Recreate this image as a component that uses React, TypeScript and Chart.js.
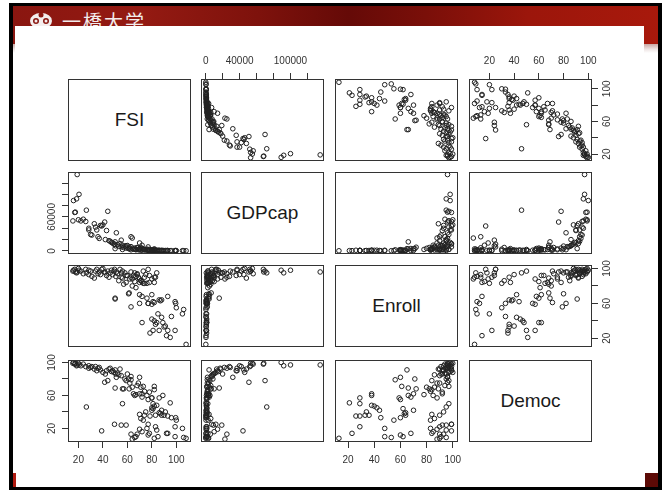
import React, { useEffect, useRef } from "react";
import { Chart, registerables } from "chart.js";

Chart.register(...registerables);

// ---------------- data (one entry per country) ----------------
const fsi = [
  15.5, 16, 17, 17.5, 18.5, 19, 20.5, 20, 22, 24, 26, 26.5, 28.5, 28.5, 30, 31, 33, 34, 35, 36, 38, 39, 40, 41.5, 43, 44, 37, 42, 45, 47,
  46, 48, 49, 50, 50.5, 51, 52, 53, 54, 55, 56, 57, 58, 59, 60, 61, 61.5, 62, 63, 64, 65, 66, 67, 68, 69, 70, 71, 72, 73, 74, 76, 77, 78, 56, 80, 82,
  63, 64, 55, 49.5, 59, 70, 72, 67, 68, 66, 70, 71, 73, 74, 75, 76, 78, 80, 81, 83, 84, 86, 87, 93, 99, 77, 82,
  108, 106, 105, 99.5, 95, 99, 93, 86, 81, 90, 91, 78.5, 72, 84, 82, 80, 83, 88, 89, 92, 96, 85, 100, 63, 70, 80, 82, 50, 77, 88,
];
const gdp = [
  53000, 89000, 68000, 68500, 92000, 135000, 100000, 55000, 53000, 56000, 52000, 72000, 40000, 37000, 29000, 28000, 48000, 42000, 37000, 25000, 45000, 44000, 46000, 51000, 36000, 70000, 22000, 20000, 18000, 15000,
  17000, 14000, 12000, 16000, 9000, 32000, 11000, 8000, 13000, 7000, 10000, 6000, 8500, 5000, 9500, 4000, 6500, 3500, 7500, 4500, 3000, 5000, 2500, 6000, 2000, 3800, 1500, 4200, 2800, 1800, 3200, 1200, 2200, 2500, 1600, 2400,
  25000, 22700, 19000, 12000, 9000, 14000, 10000, 2000, 5500, 3000, 4000, 6000, 3000, 2500, 1800, 1400, 2600, 900, 1500, 1200, 800, 1000, 700, 600, 500, 7000, 3500,
  200, 300, 400, 500, 400, 600, 700, 800, 900, 500, 650, 1100, 1300, 800, 1000, 1200, 700, 600, 900, 400, 350, 1100, 450, 1900, 2100, 1500, 1300, 4000, 1000, 800,
];
const enroll = [
  97, 98, 99, 96, 95, 96, 98, 100, 97, 94, 99, 95, 93, 98, 97, 91, 89, 97, 99, 94, 93, 99, 100, 96, 92, 97, 96, 95, 90, 98,
  95, 93, 97, 66, 91, 96, 94, 86, 99, 90, 89, 82, 95, 84, 92, 71, 72, 88, 96, 80, 92, 85, 78, 94, 90, 70, 86, 68, 97, 83, 66, 60, 92, 97, 88, 84,
  90, 88, 95, 99, 92, 88, 85, 91, 93, 95, 84, 86, 83, 90, 93, 83, 84, 70, 62, 90, 95, 64, 63, 68, 62, 99, 90,
  13, 53, 48, 60, 21, 29, 29, 29, 29, 33, 34, 26, 38, 38, 40, 42, 36, 44, 38, 23, 45, 48, 55, 56, 60, 59, 61, 65, 60, 64,
];
const democ = [
  99, 100, 98, 99, 96, 97, 97, 99, 96, 98, 95, 46, 96, 93, 94, 95, 92, 95, 90, 93, 91, 17, 88, 76, 90, 78, 94, 86, 92, 89,
  93, 90, 88, 69, 86, 82, 87, 85, 92, 84, 68, 68, 80, 78, 86, 80, 68, 75, 83, 70, 62, 60, 61, 72, 75, 62, 70, 58, 71, 65, 60, 55, 64, 50, 57, 67,
  13, 7, 24, 25, 24, 19, 16, 10, 13, 9, 37, 32, 30, 36, 40, 20, 14, 42, 44, 22, 18, 39, 38, 14, 10, 25, 8,
  8, 9, 20, 33, 51, 22, 35, 57, 50, 36, 40, 35, 62, 48, 47, 45, 36, 42, 60, 14, 33, 10, 30, 79, 82, 57, 71, 91, 12, 36,
];

const varNames = ["FSI", "GDPcap", "Enroll", "Democ"];

// tick positions of each variable's axis
const fsiTicks = [20, 40, 60, 80, 100];
const gdpTicks = [0, 20000, 40000, 60000, 80000, 100000, 120000];
const enrollTicks = [20, 40, 60, 80, 100];
const democTicks = [20, 40, 60, 80, 100];

// tick labels that are written (R drops the overlapping ones)
const fsiBottomLabels = [20, 40, 60, 80, 100];
const fsiRightLabels = [20, 60, 100];
const gdpTopLabels = [0, 40000, 100000];
const gdpLeftLabels = [0, 60000];
const enrollBottomLabels = [20, 40, 60, 80, 100];
const enrollRightLabels = [20, 60, 100];
const democTopLabels = [20, 40, 60, 80, 100];
const democLeftLabels = [20, 60, 100];

// axis ranges (data range plus R's 4% margin)
const fsiRange = [11.5, 112];
const gdpRange = [-5500, 139500];
const enrollRange = [10, 104];
const democRange = [3.5, 103];

// ---------------- layout ----------------
const series = [fsi, gdp, enroll, democ];
const ticksOf = [fsiTicks, gdpTicks, enrollTicks, democTicks];
const rangeOf = [fsiRange, gdpRange, enrollRange, democRange];
const topLabels: (number[] | null)[] = [null, gdpTopLabels, null, democTopLabels];
const bottomLabels: (number[] | null)[] = [fsiBottomLabels, null, enrollBottomLabels, null];
const leftLabels: (number[] | null)[] = [null, gdpLeftLabels, null, democLeftLabels];
const rightLabels: (number[] | null)[] = [fsiRightLabels, null, enrollRightLabels, null];

const M = 30;
const colLeft = [68, 201, 335, 469];
const rowTop = [79, 172, 265, 360];
const BOX_W = 123;
const BOX_H = 82;
const FONT = '"Liberation Sans", Arial, Helvetica, sans-serif';
const INK = "#333";

function ScatterPanel({ row, col }: { row: number; col: number }) {
  const ref = useRef<HTMLCanvasElement | null>(null);
  useEffect(() => {
    if (!ref.current) return;
    const xs = series[col];
    const ys = series[row];
    const showTop = row === 0 && col % 2 === 1;
    const showBottom = row === 3 && col % 2 === 0;
    const showLeft = col === 0 && row % 2 === 1;
    const showRight = col === 3 && row % 2 === 0;
    const showX = showTop || showBottom;
    const showY = showLeft || showRight;
    const xLabels = showTop ? topLabels[col] : showBottom ? bottomLabels[col] : null;
    const yLabels = showLeft ? leftLabels[row] : showRight ? rightLabels[row] : null;

    const gridOpts = {
      drawOnChartArea: false,
      drawTicks: true,
      tickLength: 6,
      color: INK,
      tickColor: INK,
      tickWidth: 1,
      lineWidth: 1,
    };

    const framePlugin = {
      id: "frame" + row + col,
      afterDraw(chart: any) {
        const ctx = chart.ctx;
        const a = chart.chartArea;
        ctx.save();
        ctx.strokeStyle = INK;
        ctx.lineWidth = 1;
        ctx.strokeRect(
          Math.round(a.left) + 0.5,
          Math.round(a.top) + 0.5,
          Math.round(a.right - a.left) - 1,
          Math.round(a.bottom - a.top) - 1
        );
        if (yLabels) {
          const ys2 = chart.scales.y;
          ctx.fillStyle = INK;
          ctx.font = "10px " + FONT;
          ctx.textAlign = "center";
          ctx.textBaseline = "middle";
          const xPos = showLeft ? a.left - 15.5 : a.right + 15.5;
          ys2.ticks.forEach((t: any) => {
            if (yLabels.includes(t.value)) {
              const py = ys2.getPixelForValue(t.value);
              ctx.save();
              ctx.translate(xPos, py);
              ctx.rotate(-Math.PI / 2);
              ctx.fillText(String(t.value), 0, 0);
              ctx.restore();
            }
          });
        }
        ctx.restore();
      },
    };

    const chart = new Chart(ref.current, {
      type: "scatter",
      data: {
        datasets: [
          {
            data: xs.map((x, k) => ({ x, y: ys[k] })),
            pointRadius: 2.3,
            pointBorderWidth: 1,
            borderColor: "#222",
            backgroundColor: "rgba(0,0,0,0)",
            pointStyle: "circle",
          },
        ],
      },
      options: {
        responsive: false,
        animation: false,
        events: [],
        layout: {
          padding: {
            top: showTop ? 0 : M,
            bottom: showBottom ? 0 : M,
            left: showLeft ? 0 : M,
            right: showRight ? 0 : M,
          },
        },
        plugins: { legend: { display: false }, tooltip: { enabled: false } },
        scales: {
          x: {
            type: "linear",
            position: showTop ? "top" : "bottom",
            display: showX,
            min: rangeOf[col][0],
            max: rangeOf[col][1],
            afterBuildTicks: (s: any) => {
              s.ticks = ticksOf[col].map((v) => ({ value: v }));
            },
            afterFit: (s: any) => {
              s.height = showX ? M : 0;
            },
            grid: gridOpts,
            border: { display: false },
            ticks: {
              autoSkip: false,
              maxRotation: 0,
              minRotation: 0,
              padding: 6,
              color: INK,
              font: { family: FONT, size: 10 },
              callback: (v: any) => (xLabels && xLabels.includes(Number(v)) ? String(v) : ""),
            },
          },
          y: {
            type: "linear",
            position: showLeft ? "left" : "right",
            display: showY,
            min: rangeOf[row][0],
            max: rangeOf[row][1],
            afterBuildTicks: (s: any) => {
              s.ticks = ticksOf[row].map((v) => ({ value: v }));
            },
            afterFit: (s: any) => {
              s.width = showY ? M : 0;
            },
            grid: gridOpts,
            border: { display: false },
            ticks: { display: false },
          },
        },
      } as any,
      plugins: [framePlugin],
    });
    return () => chart.destroy();
  }, [row, col]);

  return (
    <canvas
      ref={ref}
      width={BOX_W + 2 * M}
      height={BOX_H + 2 * M}
      style={{
        position: "absolute",
        left: colLeft[col] - M,
        top: rowTop[row] - M,
        width: BOX_W + 2 * M,
        height: BOX_H + 2 * M,
      }}
    />
  );
}

function LabelBox({ k }: { k: number }) {
  return (
    <div
      style={{
        position: "absolute",
        left: colLeft[k],
        top: rowTop[k],
        width: BOX_W,
        height: BOX_H,
        boxSizing: "border-box",
        border: "1px solid " + INK,
        display: "flex",
        alignItems: "center",
        justifyContent: "center",
        fontFamily: FONT,
        fontSize: 19,
        color: "#1a1a1a",
        background: "#fff",
      }}
    >
      {varNames[k]}
    </div>
  );
}

export default function App() {
  const cells: React.ReactNode[] = [];
  for (let r = 0; r < 4; r++) {
    for (let c = 0; c < 4; c++) {
      if (r === c) cells.push(<LabelBox key={"d" + r} k={r} />);
    }
  }
  for (let r = 0; r < 4; r++) {
    for (let c = 0; c < 4; c++) {
      if (r !== c) cells.push(<ScatterPanel key={"p" + r + c} row={r} col={c} />);
    }
  }
  return (
    <div
      style={{
        position: "fixed",
        left: 0,
        top: 0,
        width: 669,
        height: 490,
        background: "#fff",
        overflow: "hidden",
      }}
    >
      {/* slide frame */}
      <div
        style={{
          position: "absolute",
          left: 9,
          top: 3,
          width: 653,
          height: 487,
          boxSizing: "border-box",
          borderStyle: "solid",
          borderColor: "#000",
          borderWidth: "3px 4px 3px 4px",
          background: "#fff",
        }}
      />
      {/* red header */}
      <div
        style={{
          position: "absolute",
          left: 13,
          top: 6,
          width: 645,
          height: 38,
          background:
            "linear-gradient(90deg, #8a1610 0%, #941a12 20%, #7e120c 38%, #650a07 52%, #7a0f09 64%, #9c160b 80%, #a8190c 100%)",
        }}
      />
      <div
        style={{
          position: "absolute",
          left: 13,
          top: 44,
          width: 645,
          height: 9,
          background: "linear-gradient(180deg, #c9a8a4 0%, #efe6e5 60%, #ffffff 100%)",
        }}
      />
      {/* bottom corner marks */}
      <div style={{ position: "absolute", left: 13, top: 473, width: 3, height: 14, background: "#b01a10" }} />
      <div style={{ position: "absolute", left: 645, top: 473, width: 13, height: 14, background: "#5c0a06" }} />
      {/* logo */}
      <svg
        width={26}
        height={20}
        style={{ position: "absolute", left: 28, top: 10 }}
        viewBox="0 0 26 20"
      >
        <ellipse cx={13} cy={11} rx={11} ry={8} fill="#f4eeee" />
        <circle cx={8} cy={11} r={3} fill="#8a1610" />
        <circle cx={18} cy={11} r={3} fill="#8a1610" />
        <circle cx={13} cy={5} r={2.5} fill="#8a1610" />
        <circle cx={8} cy={11} r={1.5} fill="#f4eeee" />
        <circle cx={18} cy={11} r={1.5} fill="#f4eeee" />
      </svg>
      <div
        style={{
          position: "absolute",
          left: 62,
          top: 9,
          fontFamily: '"Noto Sans CJK JP", "Noto Sans CJK SC", sans-serif',
          fontSize: 19,
          letterSpacing: 2,
          color: "#f2ecec",
          lineHeight: "24px",
          whiteSpace: "nowrap",
        }}
      >
        一橋大学
      </div>
      {/* white content panel */}
      <div
        style={{
          position: "absolute",
          left: 15,
          top: 26,
          width: 629,
          height: 446,
          background: "#fff",
        }}
      />
      {cells}
    </div>
  );
}
